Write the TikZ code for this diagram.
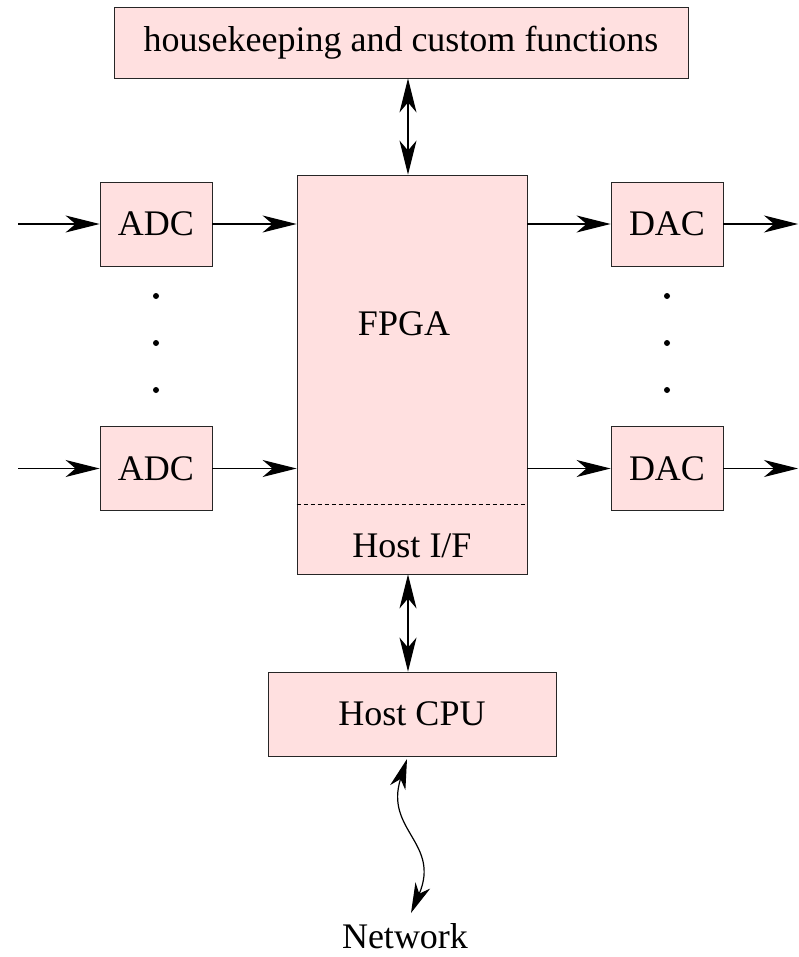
\documentclass[tikz,border=0pt]{standalone}
\usepackage{fontspec}
\setmainfont{Liberation Serif}
\usetikzlibrary{arrows.meta}
\definecolor{boxpink}{HTML}{FFE0E0}
\begin{document}
\begin{tikzpicture}[x=1pt,y=-1pt,
  blk/.style={draw=black!85,line width=0.9pt,fill=boxpink,inner sep=0pt,
    font=\fontsize{36}{40}\selectfont},
  lbl/.style={inner sep=0pt,font=\fontsize{36}{40}\selectfont},
  tip/.tip={Stealth[length=34pt,width=17pt,inset=10pt]},
  conn/.style={line width=1.2pt,-tip},
  dconn/.style={line width=1.2pt,tip-tip},
  dotm/.style={circle,fill=black,inner sep=0pt,minimum size=6pt}]
\useasboundingbox (0,0) rectangle (798,957);
% boxes
\node[blk,minimum width=574pt,minimum height=71pt] (hk) at (401,42.5) {housekeeping and custom functions};
\node[blk,minimum width=230pt,minimum height=399pt] (fpga) at (412,374.5) {};
\node[lbl] (fpgal) at (404,324) {FPGA};
\node[lbl] (hif) at (412,546) {Host I/F};
\coordinate (dl) at (0,504);
\draw[line width=0.8pt,dash pattern=on 4pt off 3pt] (fpga.west |- dl) -- (fpga.east |- dl);
\node[blk,minimum width=112pt,minimum height=84pt] (adc1) at (156,224) {ADC};
\node[blk,minimum width=112pt,minimum height=84pt] (adc2) at (156,468.5) {ADC};
\node[blk,minimum width=112pt,minimum height=84pt] (dac1) at (667,224) {DAC};
\node[blk,minimum width=112pt,minimum height=84pt] (dac2) at (667,468.5) {DAC};
\node[blk,minimum width=288pt,minimum height=84pt] (cpu) at (412,714) {Host CPU};
\node[lbl] (net) at (405,936) {Network};
% dots
\node[dotm] (d1) at (156,296) {};
\node[dotm] (d2) at (156,343) {};
\node[dotm] (d3) at (156,390) {};
\node[dotm] (d4) at (667,296) {};
\node[dotm] (d5) at (667,343) {};
\node[dotm] (d6) at (667,390) {};
% connectors
\coordinate (in1) at (18,224);
\coordinate (in2) at (18,468.5);
\coordinate (out1) at (798,224);
\coordinate (out2) at (798,468.5);
\coordinate (vx) at (408,0);
\draw[conn] (in1) -- (adc1.west);
\draw[conn] (in2) -- (adc2.west);
\draw[conn] (adc1.east) -- (adc1.east -| fpga.west);
\draw[conn] (adc2.east) -- (adc2.east -| fpga.west);
\draw[conn] (dac1.west -| fpga.east) -- (dac1.west);
\draw[conn] (dac2.west -| fpga.east) -- (dac2.west);
\draw[conn] (dac1.east) -- (out1);
\draw[conn] (dac2.east) -- (out2);
\draw[dconn] (hk.south -| vx) -- (fpga.north -| vx);
\draw[dconn] (fpga.south -| vx) -- (cpu.north -| vx);
\coordinate (wt) at (407,759);
\coordinate (wb) at (411,913);
\draw[line width=1.2pt,{Stealth[length=30pt,width=16pt,inset=9pt]}-{Stealth[length=30pt,width=16pt,inset=9pt]}]
  (wt) .. controls (384,830) and (441,843) .. (wb);
\end{tikzpicture}
\end{document}
